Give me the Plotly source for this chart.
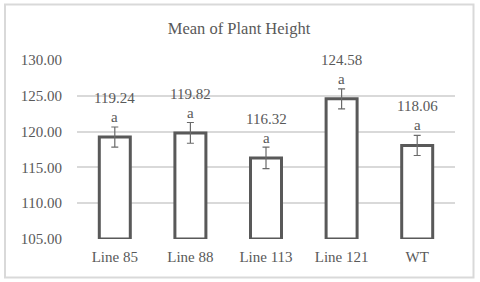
import plotly.graph_objects as go

categories = ["Line 85", "Line 88", "Line 113", "Line 121", "WT"]
means = [119.24, 119.82, 116.32, 124.58, 118.06]
errors = [1.4, 1.45, 1.5, 1.4, 1.4]
letters = ["a", "a", "a", "a", "a"]
y_ticks = [105, 110, 115, 120, 125, 130]
y_min, y_max = 105, 130

GRAY = "#595959"
LIGHT = "#d9d9d9"
FONT = "'Liberation Serif', 'Times New Roman', serif"

fig = go.Figure()
fig.add_trace(go.Bar(
    x=categories,
    y=[m - y_min for m in means],
    base=y_min,
    marker=dict(color="white", line=dict(color=GRAY, width=3)),
    hoverinfo="skip",
))
fig.add_trace(go.Scatter(
    x=categories,
    y=means,
    mode="markers",
    marker=dict(size=0.1, color="rgba(0,0,0,0)"),
    error_y=dict(type="data", array=errors, color="#6a6a6a", thickness=1.2, width=3.5),
    hoverinfo="skip",
))

for c, m, l in zip(categories, means, letters):
    fig.add_annotation(x=c, y=m, text=f"{m:.2f}", showarrow=False, yshift=39,
                       font=dict(family=FONT, size=15, color=GRAY))
    fig.add_annotation(x=c, y=m, text=l, showarrow=False, yshift=20,
                       font=dict(family=FONT, size=15, color=GRAY))

L, R, T, B = 77, 25, 60, 43
W, H = 480, 282
pw, ph = W - L - R, H - T - B
fig.add_shape(type="rect", xref="paper", yref="paper",
              x0=(5 - L) / pw, x1=(473.5 - L) / pw,
              y0=(H - B - 277.5) / ph, y1=(H - B - 4.5) / ph,
              line=dict(color=LIGHT, width=2), layer="above")

fig.update_layout(
    width=W, height=H,
    margin=dict(l=L, r=R, t=T, b=B),
    paper_bgcolor="white", plot_bgcolor="white",
    showlegend=False,
    bargap=0.59,
    title=dict(text="Mean of Plant Height", x=239 / W, xref="container", xanchor="center",
               y=1 - 28 / H, yref="container", yanchor="middle",
               font=dict(family=FONT, size=16.5, color=GRAY)),
    font=dict(family=FONT, size=15, color=GRAY),
    xaxis=dict(showgrid=False, showline=False, zeroline=False, ticks="",
               ticklabelstandoff=7,
               tickfont=dict(family=FONT, size=15, color=GRAY), fixedrange=True),
    yaxis=dict(range=[y_min, y_max], tickvals=y_ticks, tickformat=".2f",
               showgrid=True, gridcolor=LIGHT, gridwidth=1.5, zeroline=False,
               showline=False, ticks="", ticklabelstandoff=14,
               tickfont=dict(family=FONT, size=15, color=GRAY), fixedrange=True),
)

fig.write_html("out.html", config={"displayModeBar": False},
               post_script="document.body.style.margin='0';document.body.style.overflow='hidden';")
